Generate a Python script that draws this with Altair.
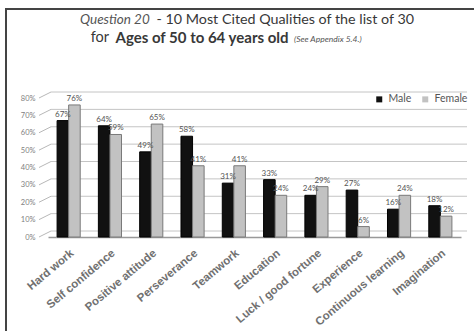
import altair as alt
import pandas as pd

categories = ["Hard work", "Self confidence", "Positive attitude", "Perseverance",
              "Teamwork", "Education", "Luck / good fortune", "Experience",
              "Continuous learning", "Imagination"]
male = [67, 64, 49, 58, 31, 33, 24, 27, 16, 18]
female = [76, 59, 65, 41, 41, 24, 29, 6, 24, 12]
series = ["Male", "Female"]
y_ticks = [0, 10, 20, 30, 40, 50, 60, 70, 80]

rows = []
for c, m, f in zip(categories, male, female):
    rows.append({"quality": c, "gender": "Male", "value": m, "label": f"{m}%"})
    rows.append({"quality": c, "gender": "Female", "value": f, "label": f"{f}%"})
df = pd.DataFrame(rows)
grid_df = pd.DataFrame({"value": y_ticks})

W, H = 413, 139
PL, PT = 48, 98
FONT = "Lato"

x_enc = alt.X("quality:N", sort=categories, title=None,
              scale=alt.Scale(paddingInner=0.44, paddingOuter=0.22),
              axis=alt.Axis(labelAngle=-40, labelFontSize=11.5, labelFontWeight="bold",
                            labelColor="#707070", labelFont="Liberation Sans",
                            domainColor="#999999", domainWidth=1.5, ticks=False,
                            labelPadding=10))
y_scale = alt.Scale(domain=[0, 80])
y_axis = alt.Axis(values=y_ticks, labelExpr="datum.value + '%'",
                  labelFontSize=7.5, labelColor="#808080", labelFont=FONT,
                  grid=False, domain=False, ticks=False, labelPadding=13)
y_enc = alt.Y("value:Q", title=None, scale=y_scale, axis=y_axis)
xo = alt.XOffset("gender:N", sort=series)

grid = alt.Chart(grid_df).mark_rule(color="#c4c4c4", strokeWidth=1, yOffset=-6).encode(
    y=y_enc, x=alt.value(3), x2=alt.value(W + 6))
diag = alt.Chart(grid_df).mark_rule(color="#b8b8b8", strokeWidth=1, y2Offset=-6).encode(
    y=y_enc, y2="value:Q", x=alt.value(-9), x2=alt.value(3))

bars = alt.Chart(df).mark_bar(strokeWidth=1).encode(
    x=x_enc, y=y_enc, xOffset=xo,
    color=alt.Color("gender:N", sort=series, title=None,
                    scale=alt.Scale(domain=series, range=["#111111", "#c2c2c2"]),
                    legend=alt.Legend(orient="none", legendX=326, legendY=-4,
                                      direction="horizontal", symbolType="square",
                                      symbolSize=36, labelFontSize=10.5,
                                      labelColor="#555555", labelFont=FONT,
                                      columnPadding=8, symbolStrokeWidth=0)),
    stroke=alt.Stroke("gender:N", sort=series,
                      scale=alt.Scale(domain=series, range=["#000000", "#7a7a7a"]),
                      legend=None),
)

labels = alt.Chart(df).mark_text(dy=-6, fontSize=8, color="#555555", font=FONT).encode(
    x=x_enc, y=y_enc, xOffset=xo, text="label:N")

one = pd.DataFrame({"k": [0]})
frame = alt.Chart(one).mark_rect(fill=None, stroke="#444444", strokeWidth=2).encode(
    x=alt.value(6 - PL), x2=alt.value(480 - PL), y=alt.value(9 - PT), y2=alt.value(345 - PT))

t1a = alt.Chart(one).mark_text(text="Question 20", fontStyle="italic", fontSize=13.5,
                               color="#555555", align="left", font=FONT).encode(
    x=alt.value(80 - PL), y=alt.value(20 - PT))
t1b = alt.Chart(one).mark_text(text="- 10 Most Cited Qualities of the list of 30", fontSize=14.3,
                               color="#383838", align="right", font=FONT).encode(
    x=alt.value(414 - PL), y=alt.value(20 - PT))
t2a = alt.Chart(one).mark_text(text="for", fontSize=14.5, color="#383838",
                               align="right", font=FONT).encode(
    x=alt.value(109 - PL), y=alt.value(38 - PT))
t2b = alt.Chart(one).mark_text(text="Ages of 50 to 64 years old", fontSize=15, fontWeight="bold",
                               color="#383838", align="center", font=FONT).encode(
    x=alt.value(202 - PL), y=alt.value(38 - PT))
t2c = alt.Chart(one).mark_text(text="(See Appendix 5.4.)", fontSize=8.5, fontStyle="italic",
                               color="#555555", align="left", font=FONT).encode(
    x=alt.value(294 - PL), y=alt.value(39 - PT))

chart = alt.layer(grid, diag, frame, bars, labels, t1a, t1b, t2a, t2b, t2c).properties(
    width=W, height=H,
    autosize=alt.AutoSizeParams(type="none"),
    padding={"left": PL, "top": PT, "right": 474 - PL - W, "bottom": 331 - PT - H},
    background="white",
).configure_view(stroke=None)

chart.save("out.html", embed_options={"renderer": "svg", "actions": False})
